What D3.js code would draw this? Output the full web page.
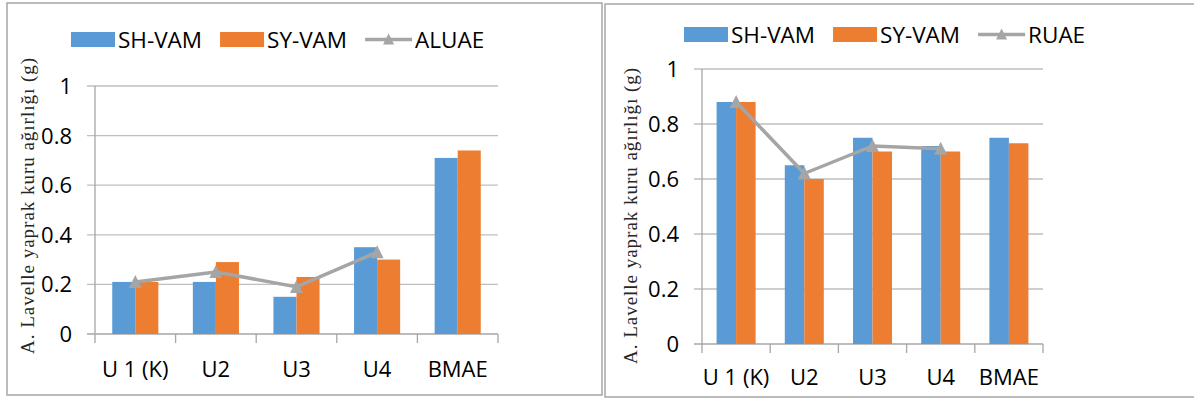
<!DOCTYPE html>
<html>
<head>
<meta charset="utf-8">
<script src="https://d3js.org/d3.v7.min.js"></script>
<style>
    body { margin: 0; background: #fff; }
    svg { display: block; }
    .tick-label { font: 22px "Open Sans", sans-serif; fill: #000; }
    .legend-label { font: 22.5px "Open Sans", sans-serif; fill: #000; }
    .y-title { font: 19px "Liberation Serif", serif; fill: #262626; }
</style>
</head>
<body>
<div id="chart"></div>
<script>
// categories and values
var categories = ["U 1 (K)", "U2", "U3", "U4", "BMAE"];
var yTicks = [0, 0.2, 0.4, 0.6, 0.8, 1];

var leftSH = [0.21, 0.21, 0.15, 0.35, 0.71];
var leftSY = [0.21, 0.29, 0.23, 0.30, 0.74];
var leftLine = [0.21, 0.25, 0.19, 0.33];

var rightSH = [0.88, 0.65, 0.75, 0.72, 0.75];
var rightSY = [0.88, 0.60, 0.70, 0.70, 0.73];
var rightLine = [0.88, 0.62, 0.72, 0.71];

var seriesNames = ["SH-VAM", "SY-VAM"];
var lineNameLeft = "ALUAE";
var lineNameRight = "RUAE";
var yTitle = "A. Lavelle yaprak kuru ağırlığı (g)";

var blue = "#5B9BD5", orange = "#ED7D31", grey = "#A5A5A5";

var svg = d3.select("#chart").append("svg")
    .attr("width", 1194)
    .attr("height", 399);

var panels = [
    { frame: [7, 3, 595, 392], x: [95, 498], y: [334, 86], legendX: 71, legendY: 32, titleX: 27, titleY: 206,
      sh: leftSH, sy: leftSY, line: leftLine, lineName: lineNameLeft, labelDy: 43 },
    { frame: [605, 4, 620, 393], x: [702, 1043], y: [344, 69], legendX: 684, legendY: 27, titleX: 630, titleY: 216,
      sh: rightSH, sy: rightSY, line: rightLine, lineName: lineNameRight, labelDy: 41 }
];

function triangle(g) {
    return g.append("path").attr("d", "M0,-7L6.5,6L-6.5,6Z").attr("fill", grey);
}

panels.forEach(function (p) {
    var g = svg.append("g");

    // outer frame
    g.append("rect")
        .attr("x", p.frame[0]).attr("y", p.frame[1])
        .attr("width", p.frame[2]).attr("height", p.frame[3])
        .attr("fill", "none").attr("stroke", "#A6A6A6").attr("stroke-width", 1.5);

    var x = d3.scaleBand().domain(categories).range(p.x).padding(0);
    var y = d3.scaleLinear().domain([0, 1]).range(p.y);
    var bw = x.bandwidth() * 0.286;

    // gridlines + y ticks
    g.selectAll(".grid").data(yTicks).enter().append("line")
        .attr("x1", p.x[0] - 8).attr("x2", p.x[1])
        .attr("y1", function (d) { return y(d); })
        .attr("y2", function (d) { return y(d); })
        .attr("stroke", function (d) { return d === 0 ? "#A6A6A6" : "#BFBFBF"; })
        .attr("stroke-width", 1.3);

    g.selectAll(".ylab").data(yTicks).enter().append("text")
        .attr("class", "tick-label")
        .attr("x", p.x[0] - 23)
        .attr("y", function (d) { return y(d); })
        .attr("dy", "0.36em")
        .attr("text-anchor", "end")
        .text(function (d) { return d3.format("")(d); });

    // y axis line
    g.append("line")
        .attr("x1", p.x[0]).attr("x2", p.x[0])
        .attr("y1", y(1)).attr("y2", y(0))
        .attr("stroke", "#A6A6A6").attr("stroke-width", 1.3);

    // x ticks at band edges
    var edges = categories.map(function (c) { return x(c); }).concat([p.x[1]]);
    g.selectAll(".xtick").data(edges).enter().append("line")
        .attr("x1", function (d) { return d; }).attr("x2", function (d) { return d; })
        .attr("y1", y(0)).attr("y2", y(0) + 9)
        .attr("stroke", "#A6A6A6").attr("stroke-width", 1.3);

    g.selectAll(".xlab").data(categories).enter().append("text")
        .attr("class", "tick-label")
        .attr("x", function (d) { return x(d) + x.bandwidth() / 2; })
        .attr("y", y(0) + p.labelDy)
        .attr("text-anchor", "middle")
        .text(function (d) { return d; });

    // bars
    g.selectAll(".sh").data(p.sh).enter().append("rect")
        .attr("x", function (d, i) { return x(categories[i]) + x.bandwidth() / 2 - bw; })
        .attr("y", function (d) { return y(d); })
        .attr("width", bw)
        .attr("height", function (d) { return y(0) - y(d); })
        .attr("fill", blue);

    g.selectAll(".sy").data(p.sy).enter().append("rect")
        .attr("x", function (d, i) { return x(categories[i]) + x.bandwidth() / 2; })
        .attr("y", function (d) { return y(d); })
        .attr("width", bw)
        .attr("height", function (d) { return y(0) - y(d); })
        .attr("fill", orange);

    // line series
    var line = d3.line()
        .x(function (d, i) { return x(categories[i]) + x.bandwidth() / 2; })
        .y(function (d) { return y(d); });

    g.append("path").datum(p.line)
        .attr("d", line)
        .attr("fill", "none").attr("stroke", grey).attr("stroke-width", 3.5)
        .attr("stroke-linejoin", "round");

    p.line.forEach(function (d, i) {
        triangle(g).attr("transform", "translate(" + (x(categories[i]) + x.bandwidth() / 2) + "," + y(d) + ")");
    });

    // y title
    g.append("text")
        .attr("class", "y-title")
        .attr("transform", "translate(" + p.titleX + "," + p.titleY + ") rotate(-90)")
        .attr("text-anchor", "middle")
        .attr("dy", "0.35em")
        .attr("textLength", 296)
        .attr("lengthAdjust", "spacing")
        .text(yTitle);

    // legend
    var lx = p.legendX, ly = p.legendY;
    [[seriesNames[0], blue], [seriesNames[1], orange]].forEach(function (s) {
        g.append("rect").attr("x", lx).attr("y", ly).attr("width", 44).attr("height", 15).attr("fill", s[1]);
        var t = g.append("text").attr("class", "legend-label")
            .attr("x", lx + 47).attr("y", ly + 15.5).text(s[0]);
        lx += 47 + t.node().getComputedTextLength() + 18;
    });
    g.append("line")
        .attr("x1", lx).attr("x2", lx + 47)
        .attr("y1", ly + 7.5).attr("y2", ly + 7.5)
        .attr("stroke", grey).attr("stroke-width", 3.5);
    triangle(g).attr("transform", "translate(" + (lx + 23.5) + "," + (ly + 7.5) + ") scale(0.85)");
    g.append("text").attr("class", "legend-label")
        .attr("x", lx + 50).attr("y", ly + 15.5).text(p.lineName);
});
</script>
</body>
</html>
